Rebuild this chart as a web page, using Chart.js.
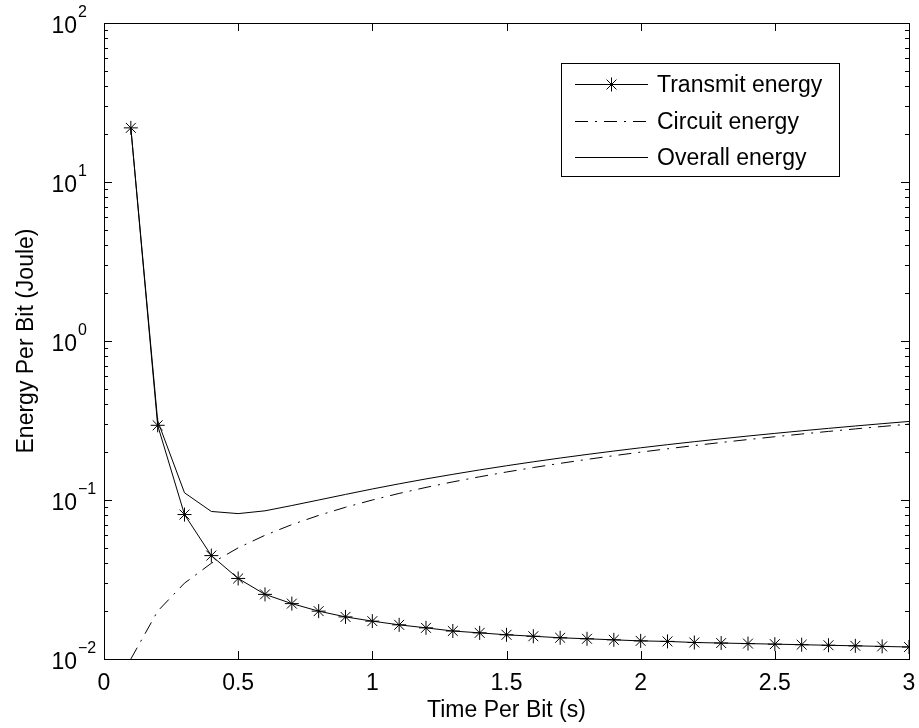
<!DOCTYPE html>
<html>
<head>
<meta charset="utf-8">
<script src="https://cdn.jsdelivr.net/npm/chart.js@4"></script>
<style>
  html, body { margin: 0; padding: 0; background: #fff; }
  #wrap { width: 919px; height: 728px; }
</style>
</head>
<body>
<div id="wrap"><canvas id="chart" width="919" height="728"></canvas></div>
<script>
// values
const timePerBit = [0.1, 0.2, 0.3, 0.4, 0.5, 0.6, 0.7, 0.8, 0.9, 1.0,
  1.1, 1.2, 1.3, 1.4, 1.5, 1.6, 1.7, 1.8, 1.9, 2.0,
  2.1, 2.2, 2.3, 2.4, 2.5, 2.6, 2.7, 2.8, 2.9, 3.0];
const transmitEnergy = [21.9, 0.295, 0.081, 0.0447, 0.0321, 0.0255, 0.0223, 0.0200, 0.0184, 0.0173,
  0.0164, 0.0157, 0.0150, 0.0146, 0.0142, 0.0139, 0.0136, 0.0134, 0.0132, 0.0130,
  0.0129, 0.0127, 0.0126, 0.0125, 0.0124, 0.0123, 0.0122, 0.0121, 0.0120, 0.0119];
const circuitEnergy = [0.01, 0.02, 0.03, 0.04, 0.05, 0.06, 0.07, 0.08, 0.09, 0.10,
  0.11, 0.12, 0.13, 0.14, 0.15, 0.16, 0.17, 0.18, 0.19, 0.20,
  0.21, 0.22, 0.23, 0.24, 0.25, 0.26, 0.27, 0.28, 0.29, 0.30];
const overallEnergy = [21.91, 0.315, 0.111, 0.0847, 0.0821, 0.0855, 0.0923, 0.1000, 0.1084, 0.1173,
  0.1264, 0.1357, 0.1450, 0.1546, 0.1642, 0.1739, 0.1836, 0.1934, 0.2032, 0.2130,
  0.2229, 0.2327, 0.2426, 0.2525, 0.2624, 0.2723, 0.2822, 0.2921, 0.3020, 0.3119];

const seriesLabels = ['Transmit energy', 'Circuit energy', 'Overall energy'];
const xTickLabels = ['0', '0.5', '1', '1.5', '2', '2.5', '3'];
const xTickValues = [0, 0.5, 1, 1.5, 2, 2.5, 3];
const yDecades = [-2, -1, 0, 1, 2];
const xTitle = 'Time Per Bit (s)';
const yTitle = 'Energy Per Bit (Joule)';

const FONT = '"Liberation Sans", Arial, Helvetica, sans-serif';

const toPoints = (ys) => timePerBit.map((t, i) => ({ x: t, y: ys[i] }));

// MATLAB-like axes: box, inward ticks, 10^n labels, titles, legend
const matlabAxes = {
  id: 'matlabAxes',
  afterDraw(chart) {
    const ctx = chart.ctx;
    const area = chart.chartArea;
    const xs = chart.scales.x;
    const ys = chart.scales.y;
    ctx.save();
    ctx.strokeStyle = '#000';
    ctx.fillStyle = '#000';
    ctx.lineWidth = 1;

    // box
    ctx.strokeRect(area.left + 0.5, area.top + 0.5, area.right - area.left, area.bottom - area.top);

    const major = 8, minor = 4;
    ctx.beginPath();
    xTickValues.forEach((v) => {
      const px = Math.round(xs.getPixelForValue(v)) + 0.5;
      ctx.moveTo(px, area.bottom); ctx.lineTo(px, area.bottom - major);
      ctx.moveTo(px, area.top); ctx.lineTo(px, area.top + major);
    });
    yDecades.forEach((d) => {
      const py = Math.round(ys.getPixelForValue(Math.pow(10, d))) + 0.5;
      ctx.moveTo(area.left, py); ctx.lineTo(area.left + major, py);
      ctx.moveTo(area.right, py); ctx.lineTo(area.right - major, py);
      if (d < 2) {
        for (let k = 2; k <= 9; k++) {
          const my = Math.round(ys.getPixelForValue(k * Math.pow(10, d))) + 0.5;
          ctx.moveTo(area.left, my); ctx.lineTo(area.left + minor, my);
          ctx.moveTo(area.right, my); ctx.lineTo(area.right - minor, my);
        }
      }
    });
    ctx.stroke();

    // x tick labels
    ctx.font = '23px ' + FONT;
    ctx.textAlign = 'center';
    ctx.textBaseline = 'alphabetic';
    xTickValues.forEach((v, i) => {
      ctx.fillText(xTickLabels[i], xs.getPixelForValue(v), area.bottom + 31);
    });

    // y tick labels 10^n
    yDecades.forEach((d) => {
      const py = ys.getPixelForValue(Math.pow(10, d));
      ctx.font = '23px ' + FONT;
      ctx.textAlign = 'right';
      ctx.fillText('10', 77, py + 10);
      ctx.font = '16px ' + FONT;
      ctx.textAlign = 'left';
      ctx.fillText(d < 0 ? '\u2212' + (-d) : String(d), 78, py - 6);
    });

    // axis titles
    ctx.font = '23px ' + FONT;
    ctx.textAlign = 'center';
    ctx.fillText(xTitle, (area.left + area.right) / 2, area.bottom + 58);
    ctx.save();
    ctx.translate(33, (area.top + area.bottom) / 2);
    ctx.rotate(-Math.PI / 2);
    ctx.fillText(yTitle, 0, 0);
    ctx.restore();

    // legend
    const lx = 561, ly = 63, lw = 278, lh = 113;
    ctx.fillStyle = '#fff';
    ctx.fillRect(lx, ly, lw, lh);
    ctx.strokeStyle = '#000';
    ctx.strokeRect(lx + 0.5, ly + 0.5, lw, lh);
    const rowY = [84, 121, 157];
    chart.data.datasets.forEach((ds, i) => {
      const y = rowY[i] + 0.5;
      ctx.save();
      ctx.strokeStyle = ds.borderColor;
      ctx.lineWidth = ds.borderWidth;
      ctx.setLineDash(ds.borderDash || []);
      ctx.beginPath();
      ctx.moveTo(575, y); ctx.lineTo(648, y);
      ctx.stroke();
      ctx.restore();
      if (ds.pointRadius > 0) {
        Chart.helpers.drawPoint(ctx, {
          pointStyle: ds.pointStyle, rotation: 0, radius: ds.pointRadius, borderWidth: 1
        }, 611.5, y);
      }
      ctx.fillStyle = '#000';
      ctx.font = '23px ' + FONT;
      ctx.textAlign = 'left';
      ctx.fillText(ds.label, 657, rowY[i] + 8);
    });

    ctx.restore();
  }
};

new Chart(document.getElementById('chart'), {
  type: 'line',
  data: {
    datasets: [
      {
        label: seriesLabels[0],
        data: toPoints(transmitEnergy),
        borderColor: '#000',
        borderWidth: 1,
        pointStyle: 'star',
        pointRadius: 7,
        pointBorderColor: '#000',
        pointBorderWidth: 1,
        tension: 0
      },
      {
        label: seriesLabels[1],
        data: toPoints(circuitEnergy),
        borderColor: '#000',
        borderWidth: 1,
        borderDash: [13, 7, 2, 7],
        pointRadius: 0,
        tension: 0
      },
      {
        label: seriesLabels[2],
        data: toPoints(overallEnergy),
        borderColor: '#000',
        borderWidth: 1,
        pointRadius: 0,
        tension: 0
      }
    ]
  },
  options: {
    responsive: false,
    animation: false,
    layout: { padding: { left: 104, right: 10, top: 23, bottom: 69 } },
    plugins: {
      legend: { display: false },
      tooltip: { enabled: false }
    },
    scales: {
      x: { type: 'linear', min: 0, max: 3, display: false },
      y: { type: 'logarithmic', min: 0.01, max: 100, display: false }
    }
  },
  plugins: [matlabAxes]
});
</script>
</body>
</html>
